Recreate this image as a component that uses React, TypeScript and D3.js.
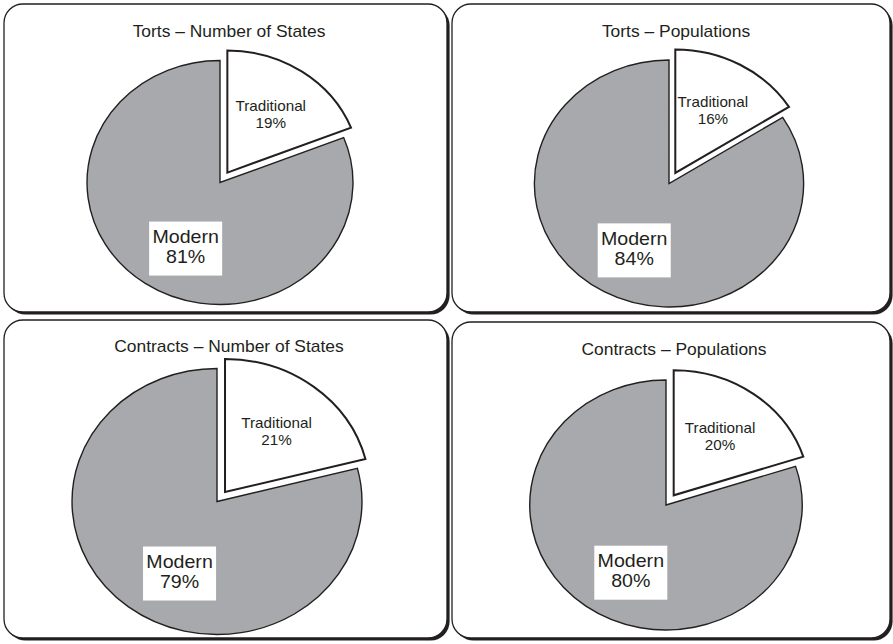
import React from "react";
import * as d3 from "d3";

// Chart content
const CHART_TITLES = [
  "Torts – Number of States",
  "Torts – Populations",
  "Contracts – Number of States",
  "Contracts – Populations",
];
const CATEGORIES = ["Traditional", "Modern"];
const TRADITIONAL_SHARE = [19, 16, 21, 20];
const MODERN_SHARE = [81, 84, 79, 80];

// Panel frames and pie placement (screen pixels)
const PANELS = [
  { x: 4, y: 4, w: 443, h: 308 },
  { x: 452, y: 4, w: 438, h: 308 },
  { x: 4, y: 320, w: 443, h: 318 },
  { x: 452, y: 322, w: 438, h: 316 },
];
const PIES = [
  { cx: 220, cy: 182.5, r: 122, tx: 229, ty: 36.5 },
  { cx: 669, cy: 183.5, r: 123.5, tx: 676, ty: 37 },
  { cx: 217, cy: 501.5, r: 133, tx: 229, ty: 352 },
  { cx: 666, cy: 505, r: 125, tx: 674, ty: 355 },
];

const WIDTH = 893;
const HEIGHT = 644;
const STRETCH_X = 1.09; // pies and text are drawn slightly wide
const EXPLODE = 12;
const INK = "#231f20";
const GRAY = "#a7a9ac";
const FONT = "'Liberation Sans', Arial, Helvetica, sans-serif";
const MODERN_LABEL_ANGLE = (205.5 * Math.PI) / 180;

function Panel({ i }: { i: number }) {
  const p = PANELS[i];
  const pie = PIES[i];
  const slices = d3
    .pie<number>()
    .sort(null)
    .value((d) => d)([TRADITIONAL_SHARE[i], MODERN_SHARE[i]]);
  const arc = d3.arc<d3.PieArcDatum<number>>().innerRadius(0).outerRadius(pie.r);

  const trad = slices[0];
  const modern = slices[1];
  const tradMid = (trad.startAngle + trad.endAngle) / 2;
  const ex = Math.sin(tradMid) * EXPLODE;
  const ey = -Math.cos(tradMid) * EXPLODE;
  const tradLabel = d3
    .arc<d3.PieArcDatum<number>>()
    .innerRadius(pie.r * 0.58)
    .outerRadius(pie.r * 0.58)
    .centroid(trad);
  const mR = pie.r * 0.6;
  const mx = Math.sin(MODERN_LABEL_ANGLE) * mR;
  const my = -Math.cos(MODERN_LABEL_ANGLE) * mR;

  return (
    <g>
      <rect x={p.x + 2.6} y={p.y + 2.6} width={p.w} height={p.h} rx={19} ry={19} fill={INK} />
      <rect x={p.x} y={p.y} width={p.w} height={p.h} rx={19} ry={19} fill="#fff" stroke={INK} strokeWidth={1.3} />
      <g transform={`translate(${pie.tx},${pie.ty}) scale(${STRETCH_X},1)`}>
        <text textAnchor="middle" fontFamily={FONT} fontSize={16} fill={INK}>
          {CHART_TITLES[i]}
        </text>
      </g>
      <g transform={`translate(${pie.cx},${pie.cy}) scale(${STRETCH_X},1)`}>
        <path d={arc(modern) || ""} fill={GRAY} stroke={INK} strokeWidth={1.4} vectorEffect="non-scaling-stroke" strokeLinejoin="miter" />
        <g transform={`translate(${ex},${ey})`}>
          <path d={arc(trad) || ""} fill="#fff" stroke={INK} strokeWidth={2} vectorEffect="non-scaling-stroke" strokeLinejoin="miter" />
          <text x={tradLabel[0]} y={tradLabel[1] - 3.5} textAnchor="middle" fontFamily={FONT} fontSize={14} fill={INK}>
            {CATEGORIES[0]}
          </text>
          <text x={tradLabel[0]} y={tradLabel[1] + 13.5} textAnchor="middle" fontFamily={FONT} fontSize={14} fill={INK}>
            {`${TRADITIONAL_SHARE[i]}%`}
          </text>
        </g>
        <rect x={mx - 33.5} y={my - 27} width={67} height={54} fill="#fff" />
        <text x={mx} y={my - 5.3} textAnchor="middle" fontFamily={FONT} fontSize={18} fill={INK}>
          {CATEGORIES[1]}
        </text>
        <text x={mx} y={my + 14.7} textAnchor="middle" fontFamily={FONT} fontSize={18} fill={INK}>
          {`${MODERN_SHARE[i]}%`}
        </text>
      </g>
    </g>
  );
}

export default function App() {
  return (
    <div style={{ position: "fixed", left: 0, top: 0, width: WIDTH, height: HEIGHT, background: "#fff" }}>
      <svg width={WIDTH} height={HEIGHT} viewBox={`0 0 ${WIDTH} ${HEIGHT}`} style={{ display: "block" }}>
        <rect width={WIDTH} height={HEIGHT} fill="#fff" />
        {CHART_TITLES.map((_, i) => (
          <Panel key={i} i={i} />
        ))}
      </svg>
    </div>
  );
}
